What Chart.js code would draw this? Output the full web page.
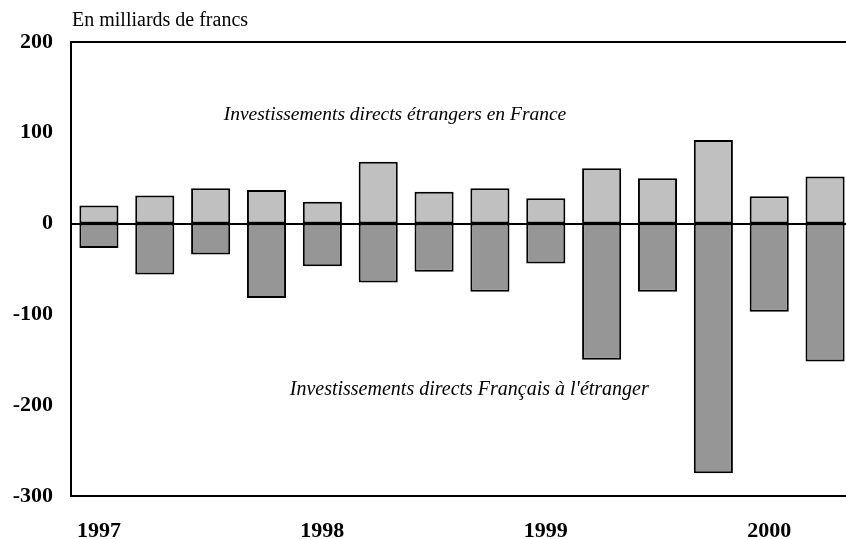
<!DOCTYPE html>
<html>
<head>
<meta charset="utf-8">
<script src="https://cdn.jsdelivr.net/npm/chart.js@4/dist/chart.umd.min.js"></script>
<style>
html,body{margin:0;padding:0;background:#fff;overflow:hidden;width:846px;height:539px;}
#wrap{position:absolute;left:0;top:0;width:856px;height:539px;}
</style>
</head>
<body>
<div id="wrap"><canvas id="c" width="856" height="539"></canvas></div>
<script>
// Quarterly categories 1997 Q1 .. 2000 Q2
const categories = ['1997 T1','1997 T2','1997 T3','1997 T4','1998 T1','1998 T2','1998 T3','1998 T4','1999 T1','1999 T2','1999 T3','1999 T4','2000 T1','2000 T2'];
// Tick labels shown on the x axis (one per year, at first quarter)
const yearLabels = ['1997','','','','1998','','','','1999','','','','2000',''];
// Investissements directs étrangers en France (milliards de francs)
const inwardFDI = [20, 31, 39, 37, 24, 68, 35, 39, 28, 61, 50, 92, 30, 52];
// Investissements directs Français à l'étranger (milliards de francs)
const outwardFDI = [-27, -56, -34, -82, -47, -65, -53, -75, -44, -150, -75, -275, -97, -152];
const yTicks = [-300, -200, -100, 0, 100, 200];
const unitLabel = 'En milliards de francs';
const noteIn = 'Investissements directs étrangers en France';
const noteOut = "Investissements directs Français à l'étranger";

const FONT = '"Liberation Serif", "Times New Roman", serif';

const overlay = {
  id: 'overlay',
  afterDatasetsDraw(chart) {
    const {ctx, chartArea, scales} = chart;
    const y = scales.y, x = scales.x;
    ctx.save();
    ctx.strokeStyle = '#000';
    ctx.lineWidth = 2;
    const y0 = Math.round(y.getPixelForValue(0));
    ctx.beginPath();
    ctx.moveTo(chartArea.left, y0);
    ctx.lineTo(chartArea.right + 5, y0);
    ctx.stroke();
    ctx.beginPath();
    ctx.moveTo(chartArea.left - 1, chartArea.top);
    ctx.lineTo(chartArea.right + 5, chartArea.top);
    ctx.stroke();
    ctx.fillStyle = '#000';
    ctx.font = '20px ' + FONT;
    ctx.textAlign = 'left';
    ctx.textBaseline = 'alphabetic';
    ctx.fillText(unitLabel, chartArea.left + 1, chartArea.top - 16);
    ctx.font = 'italic 19.5px ' + FONT;
    ctx.textAlign = 'center';
    ctx.textBaseline = 'middle';
    ctx.fillText(noteIn, x.getPixelForValue(5.3), y.getPixelForValue(120));
    ctx.font = 'italic 20px ' + FONT;
    ctx.fillText(noteOut, x.getPixelForValue(6.63), y.getPixelForValue(-183));
    ctx.restore();
  }
};

new Chart(document.getElementById('c'), {
  type: 'bar',
  data: {
    labels: categories,
    datasets: [
      {label: noteIn, data: inwardFDI, backgroundColor: '#c0c0c0', borderColor: '#000', borderWidth: 2, borderSkipped: false, categoryPercentage: 1, barPercentage: 0.7},
      {label: noteOut, data: outwardFDI, backgroundColor: '#969696', borderColor: '#000', borderWidth: 2, borderSkipped: false, categoryPercentage: 1, barPercentage: 0.7}
    ]
  },
  options: {
    responsive: false,
    animation: false,
    devicePixelRatio: 1,
    layout: {padding: {top: 42, left: 12, right: 3, bottom: 0}},
    plugins: {legend: {display: false}, tooltip: {enabled: false}, title: {display: false}},
    scales: {
      x: {
        stacked: true,
        grid: {display: false, drawTicks: false},
        border: {display: true, color: '#000', width: 2},
        afterFit: (s) => { s.height = 43; },
        ticks: {
          autoSkip: false, maxRotation: 0, padding: 22, color: '#000',
          font: {family: FONT, size: 22, weight: 'bold'},
          callback: (v, i) => yearLabels[i]
        }
      },
      y: {
        stacked: true,
        min: -300, max: 200,
        afterBuildTicks: (s) => { s.ticks = yTicks.map(v => ({value: v})); },
        afterFit: (s) => { s.width = 59; },
        grid: {display: false, drawTicks: false},
        border: {display: true, color: '#000', width: 2},
        ticks: {padding: 18, color: '#000', font: {family: FONT, size: 22, weight: 'bold'}}
      }
    }
  },
  plugins: [overlay]
});
</script>
</body>
</html>
